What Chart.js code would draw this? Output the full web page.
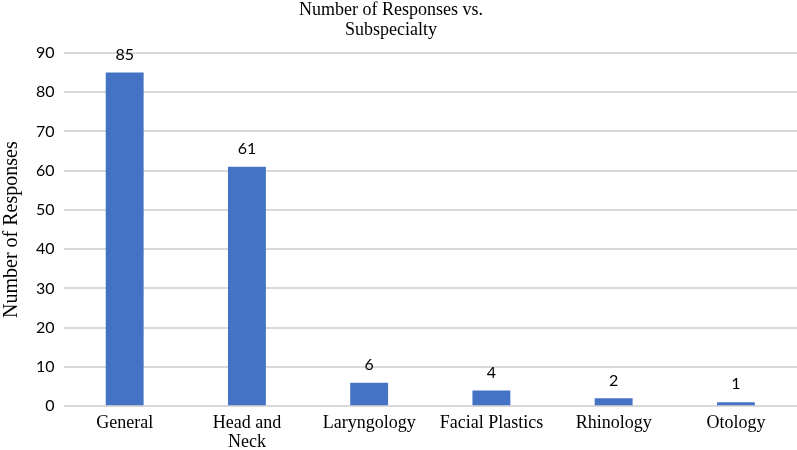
<!DOCTYPE html>
<html>
<head>
<meta charset="utf-8">
<script src="https://cdn.jsdelivr.net/npm/chart.js@4"></script>
<style>
  html, body { margin: 0; padding: 0; background: #fff; }
  #wrap { width: 797px; height: 450px; }
</style>
</head>
<body>
<div id="wrap"><canvas id="chart"></canvas></div>
<script>
const categories = ['General', ['Head and', 'Neck'], 'Laryngology', 'Facial Plastics', 'Rhinology', 'Otology'];
const responses = [85, 61, 6, 4, 2, 1];
const yTicks = [0, 10, 20, 30, 40, 50, 60, 70, 80, 90];
const titleLines = ['Number of Responses vs.', 'Subspecialty'];

const serif = '"Liberation Serif", "Times New Roman", serif';
const sans = 'Lato, "Open Sans", sans-serif';

// value above each bar, plus the two-line title (sits a bit left of page centre)
const annotate = {
  id: 'annotate',
  afterDatasetsDraw(chart) {
    const ctx = chart.ctx;
    const meta = chart.getDatasetMeta(0);
    ctx.save();
    ctx.font = '16px ' + sans;
    ctx.fillStyle = '#000';
    ctx.textAlign = 'center';
    ctx.textBaseline = 'bottom';
    meta.data.forEach((bar, i) => {
      ctx.fillText(String(responses[i]), bar.x, bar.y - 10);
    });

    ctx.font = '18px ' + serif;
    ctx.textBaseline = 'middle';
    titleLines.forEach((line, i) => {
      ctx.fillText(line, 391, 10 + i * 20);
    });
    ctx.restore();
  }
};

new Chart(document.getElementById('chart'), {
  type: 'bar',
  data: {
    labels: categories,
    datasets: [{
      label: 'Number of Responses',
      data: responses,
      backgroundColor: '#4472C4',
      borderWidth: 0,
      categoryPercentage: 1,
      barPercentage: 0.31
    }]
  },
  options: {
    responsive: true,
    maintainAspectRatio: false,
    animation: false,
    layout: { padding: { top: 53, right: 0, bottom: -10, left: 0 } },
    plugins: {
      legend: { display: false },
      tooltip: { enabled: false },
      title: { display: false }
    },
    scales: {
      x: {
        grid: { display: false, drawTicks: false },
        border: { display: false },
        ticks: {
          color: '#000',
          font: { family: serif, size: 18, lineHeight: 1.05 },
          padding: 8,
          maxRotation: 0,
          autoSkip: false
        }
      },
      y: {
        min: 0,
        max: 90,
        afterBuildTicks(axis) { axis.ticks = yTicks.map(v => ({ value: v })); },
        grid: { color: '#d9d9d9', lineWidth: 2, drawTicks: false },
        border: { display: false },
        ticks: {
          color: '#000',
          font: { family: sans, size: 16 },
          padding: 9
        },
        title: {
          display: true,
          text: 'Number of Responses',
          color: '#000',
          font: { family: serif, size: 20, lineHeight: 1.2 },
          padding: { top: 0, bottom: 3 }
        }
      }
    }
  },
  plugins: [annotate]
});
</script>
</body>
</html>
